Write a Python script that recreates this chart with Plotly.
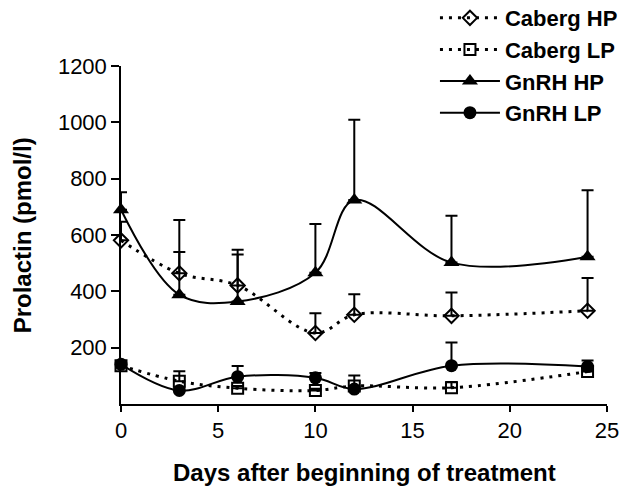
import plotly.graph_objects as go

days = [0, 3, 6, 10, 12, 17, 24]

caberg_hp = [581, 464, 421, 252, 317, 313, 331]
caberg_hp_err = [66, 76, 110, 70, 73, 83, 116]

caberg_lp = [136, 81, 56, 48, 64, 58, 115]
caberg_lp_err = [10, 35, 8, 6, 37, 20, 15]

gnrh_hp = [690, 388, 364, 466, 724, 502, 523]
gnrh_hp_err = [62, 265, 184, 173, 285, 166, 236]

gnrh_lp = [141, 48, 97, 93, 53, 136, 133]
gnrh_lp_err = [8, 10, 38, 17, 10, 82, 21]

y_ticks = [200, 400, 600, 800, 1000, 1200]
x_ticks = [0, 5, 10, 15, 20, 25]

FONT = "Liberation Sans, Arial, sans-serif"

def err(vals):
    return dict(type="data", array=vals, arrayminus=[0] * len(vals), symmetric=False,
                color="black", thickness=2, width=6)

fig = go.Figure()
series = [
    ("Caberg HP", caberg_hp, caberg_hp_err, "3px,6px", 3,
     dict(symbol="diamond-open", size=11, color="black", line=dict(width=2, color="black"))),
    ("Caberg LP", caberg_lp, caberg_lp_err, "3px,6px", 3,
     dict(symbol="square-open", size=11, color="black", line=dict(width=2, color="black"))),
    ("GnRH HP", gnrh_hp, gnrh_hp_err, "solid", 2,
     dict(symbol="triangle-up", size=14, color="black")),
    ("GnRH LP", gnrh_lp, gnrh_lp_err, "solid", 2,
     dict(symbol="circle", size=13, color="black")),
]
for name, vals, e, dash, w, mk in series:
    fig.add_trace(go.Scatter(
        x=days, y=vals, name=name, mode="lines+markers",
        line=dict(color="black", width=w, dash=dash, shape="spline", smoothing=1),
        marker=mk, error_y=err(e), cliponaxis=False,
    ))

fig.update_layout(
    width=623, height=500,
    margin=dict(l=121, r=16, t=66, b=96, autoexpand=False),
    paper_bgcolor="white", plot_bgcolor="white",
    font=dict(family=FONT, color="black", size=22),
    showlegend=True,
    legend=dict(
        x=0.646, xanchor="left", y=1.204, yanchor="top",
        font=dict(family=FONT, size=22, color="black", weight="bold"),
        itemwidth=60, tracegroupgap=0, bgcolor="rgba(0,0,0,0)",
    ),
    xaxis=dict(
        range=[0, 25], tickvals=x_ticks, ticks="outside", ticklen=6, tickwidth=1.5,
        tickcolor="black", showline=True, linecolor="black", linewidth=1.5,
        showgrid=False, zeroline=False, tickfont=dict(size=22),
    ),
    yaxis=dict(
        range=[0, 1200], tickvals=y_ticks, ticks="outside", ticklen=8, tickwidth=1.5,
        tickcolor="black", showline=True, linecolor="black", linewidth=1.5,
        showgrid=False, zeroline=False, tickfont=dict(size=22),
    ),
    annotations=[
        dict(text="<b>Days after beginning of treatment</b>", xref="paper", yref="paper",
             x=0.5, xanchor="center", y=-0.203, yanchor="middle", showarrow=False,
             font=dict(size=24, family=FONT, color="black")),
        dict(text="<b>Prolactin (pmol/l)</b>", xref="paper", yref="paper",
             x=-0.203, xanchor="center", y=0.5, yanchor="middle", textangle=-90,
             showarrow=False, font=dict(size=24, family=FONT, color="black")),
    ],
)

fig.write_html(
    "out.html",
    config={"displayModeBar": False},
    post_script="document.body.style.margin='0';document.body.style.overflow='hidden';",
)
